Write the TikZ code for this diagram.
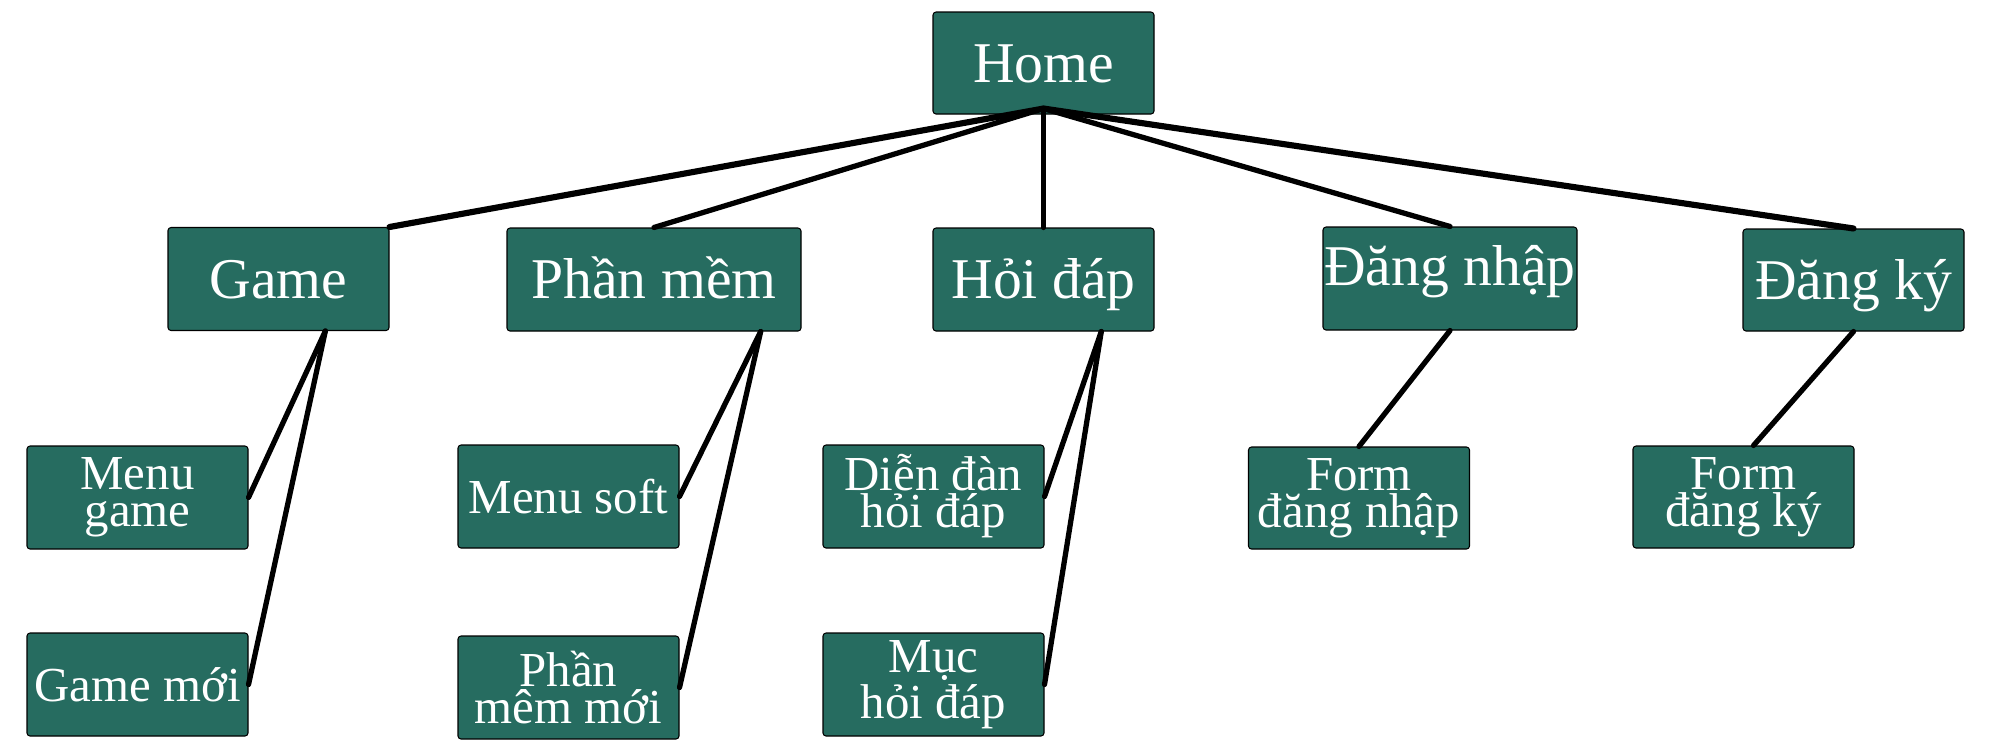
\documentclass[tikz,border=0pt]{standalone}
\usepackage{fontspec}
\setmainfont{Liberation Serif}
\definecolor{boxgreen}{RGB}{38,108,96}
\begin{document}
\begin{tikzpicture}[x=0.1mm,y=-0.1mm,line join=round,line cap=round]
\tikzset{every node/.style={fill=boxgreen,draw=black,line width=0.3pt,rounded corners=0.3mm,text=white,inner sep=0pt,minimum width=22.1mm,minimum height=10.3mm},
	mainbox/.style={font=\fontsize{16.4}{18}\selectfont,text height=10.9pt,text depth=0pt},
	subbox/.style={font=\fontsize{13.9}{10.5}\selectfont,align=center},
	link/.style={line width=1.5pt}}
\useasboundingbox (0,0) rectangle (1989,740);
% top level
\node[mainbox,minimum height=10.2mm] (home) at (1043.5,63) {Home};
\node[mainbox] (game) at (278.5,279) {Game};
\node[mainbox,minimum width=29.4mm] (phanmem) at (654,279.5) {Phần mềm};
\node[mainbox] (hoidap) at (1043.5,279.5) {Hỏi đáp};
\node[mainbox,minimum width=25.4mm,text depth=6.9pt] (dangnhap) at (1450,278.5) {Đăng nhập};
\node[mainbox,minimum height=10.2mm] (dangky) at (1853.5,280) {Đăng ký};
% second level
\node[subbox] (menugame) at (137.5,497.5) {Menu\\game};
\node[subbox] (gamemoi) at (137.5,684.5) {Game mới};
\node[subbox] (menusoft) at (568.5,496.5) {Menu soft};
\node[subbox] (phanmemmoi) at (568.5,687.5) {Phần\\mêm mới};
\node[subbox] (diendan) at (933.5,496.5) {Diễn đàn\\hỏi đáp};
\node[subbox] (muc) at (933.5,684.5) {Mục\\hỏi đáp};
\node[subbox,minimum height=10.2mm] (formdn) at (1359,498) {Form\\đăng nhập};
\node[subbox,minimum height=10.2mm] (formdk) at (1743.5,497) {Form\\đăng ký};
\coordinate (hub) at ([yshift=0.6mm]home.south);
% connectors
\draw[link,line width=1.75pt] (hub)--(game.north east);
\foreach \n in {phanmem,hoidap,dangnhap}
\draw[link] (hub)--(\n.north);
\draw[link,line width=1.75pt] (hub)--(dangky.north);
\draw[link] (game.-48)--(menugame.east);
\draw[link] (game.-48)--(gamemoi.east);
\draw[link] (phanmem.-26.5)--(menusoft.east);
\draw[link] (phanmem.-26.5)--(phanmemmoi.east);
\draw[link] (hoidap.-42)--(diendan.east);
\draw[link] (hoidap.-42)--(muc.east);
\draw[link] (dangnhap.south)--(formdn.north);
\draw[link] (dangky.south)--(formdk.79);
\end{tikzpicture}
\end{document}
